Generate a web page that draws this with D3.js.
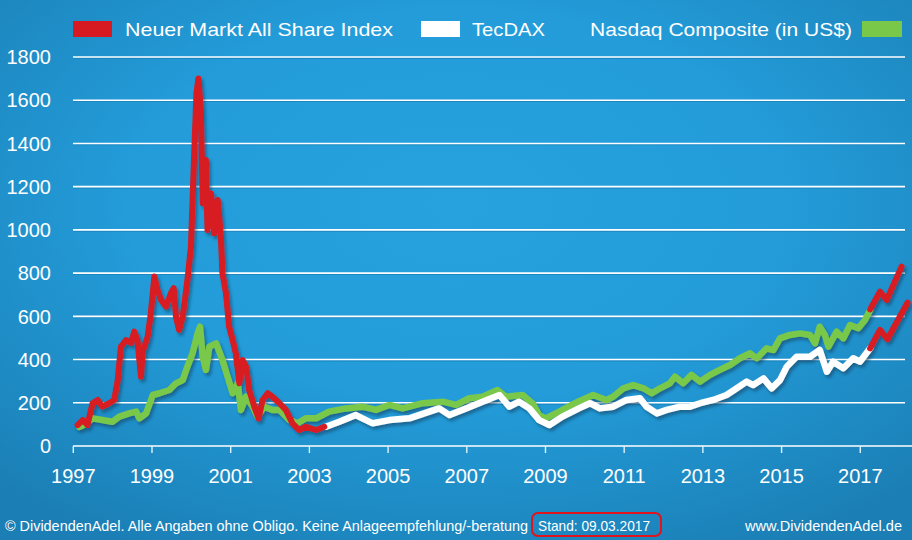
<!DOCTYPE html>
<html><head><meta charset="utf-8">
<script src="https://cdn.jsdelivr.net/npm/d3@7/dist/d3.min.js"></script>
<style>html,body{margin:0;padding:0;overflow:hidden;background:#1f8ccb}svg{display:block}</style>
</head><body><svg id="c" width="912" height="540"></svg>
<script>
// ---- data (year as decimal, index value) ----
const nemax = [[1997.11,97],[1997.24,120],[1997.36,97],[1997.49,198],[1997.62,213],[1997.74,182],[1997.91,198],[1998.04,213],[1998.13,305],[1998.21,460],[1998.34,490],[1998.47,477],[1998.55,529],[1998.63,490],[1998.72,321],[1998.76,436],[1998.89,506],[1998.97,614],[1999.06,784],[1999.14,722],[1999.23,676],[1999.36,645],[1999.48,707],[1999.55,730],[1999.61,598],[1999.69,537],[1999.78,598],[1999.90,768],[1999.99,922],[2000.07,1339],[2000.13,1632],[2000.18,1701],[2000.24,1555],[2000.29,1123],[2000.37,1323],[2000.41,1000],[2000.50,1169],[2000.58,984],[2000.67,1138],[2000.75,968],[2000.79,799],[2000.88,707],[2000.96,552],[2001.05,490],[2001.13,429],[2001.22,290],[2001.30,398],[2001.39,367],[2001.47,259],[2001.60,182],[2001.71,128],[2001.81,213],[2001.94,244],[2002.06,228],[2002.24,198],[2002.40,167],[2002.57,105],[2002.74,74],[2002.91,89],[2003.17,74],[2003.38,89]];
const nasdaq = [[1997.15,88],[1997.24,95],[1997.49,128],[1997.74,120],[1997.99,112],[1998.17,136],[1998.42,151],[1998.60,159],[1998.68,128],[1998.85,151],[1999.02,236],[1999.19,244],[1999.44,259],[1999.61,290],[1999.78,305],[1999.90,367],[2000.03,429],[2000.16,521],[2000.22,552],[2000.29,413],[2000.37,352],[2000.46,460],[2000.63,475],[2000.79,398],[2000.92,321],[2001.05,244],[2001.18,290],[2001.26,167],[2001.39,228],[2001.56,182],[2001.68,136],[2001.85,182],[2002.06,167],[2002.24,167],[2002.49,120],[2002.70,105],[2002.91,128],[2003.17,128],[2003.50,159],[2003.93,174],[2004.35,182],[2004.69,167],[2005.03,190],[2005.37,174],[2005.88,198],[2006.39,205],[2006.73,190],[2007.06,221],[2007.40,228],[2007.78,259],[2008.00,228],[2008.42,236],[2008.67,198],[2008.84,143],[2009.01,128],[2009.35,159],[2009.77,200],[2010.21,236],[2010.55,213],[2010.72,228],[2010.98,267],[2011.23,282],[2011.49,267],[2011.70,244],[2011.91,267],[2012.16,290],[2012.29,321],[2012.50,290],[2012.71,329],[2012.93,298],[2013.18,329],[2013.43,352],[2013.69,375],[2013.94,406],[2014.20,429],[2014.37,406],[2014.62,452],[2014.79,444],[2014.96,498],[2015.21,514],[2015.47,521],[2015.72,514],[2015.85,475],[2015.97,552],[2016.10,514],[2016.19,460],[2016.40,529],[2016.57,498],[2016.74,560],[2016.95,545],[2017.12,583],[2017.25,629]];
const tecdax = [[2003.42,89],[2003.76,112],[2004.18,143],[2004.61,105],[2005.03,120],[2005.54,128],[2006.05,159],[2006.30,174],[2006.56,143],[2006.98,174],[2007.40,205],[2007.83,236],[2008.08,182],[2008.33,205],[2008.59,174],[2008.84,120],[2009.10,97],[2009.43,136],[2009.86,175],[2010.13,198],[2010.38,174],[2010.72,182],[2011.06,213],[2011.40,221],[2011.57,182],[2011.83,151],[2012.08,167],[2012.42,182],[2012.67,182],[2012.93,198],[2013.26,213],[2013.60,236],[2013.86,267],[2014.11,298],[2014.28,282],[2014.54,313],[2014.75,267],[2014.96,305],[2015.13,367],[2015.38,413],[2015.72,413],[2015.97,444],[2016.15,344],[2016.31,390],[2016.57,360],[2016.82,406],[2016.99,390],[2017.25,452]];
const redAfterNasdaq = [[2017.25,632],[2017.50,714],[2017.67,676],[2018.05,830]];
const redAfterTecdax = [[2017.25,452],[2017.50,537],[2017.69,494],[2018.20,663]];
const yTicks = [0,200,400,600,800,1000,1200,1400,1600,1800];
const xTicks = [1997,1999,2001,2003,2005,2007,2009,2011,2013,2015,2017];
const legendLabels = ["Neuer Markt All Share Index","TecDAX","Nasdaq Composite (in US$)"];
const footerLeft = "© DividendenAdel. Alle Angaben ohne Obligo. Keine Anlageempfehlung/-beratung";
const footerStand = "Stand: 09.03.2017";
const footerRight = "www.DividendenAdel.de";

const RED="#d71a22", GREEN="#79c84a", WHITE="#ffffff";
const FONT="'Liberation Sans', Arial, sans-serif";

const svg = d3.select("#c");
const defs = svg.append("defs");
const rg = defs.append("radialGradient").attr("id","bg").attr("cx","50%").attr("cy","38%").attr("r","72%");
rg.append("stop").attr("offset","0%").attr("stop-color","#27a2de");
rg.append("stop").attr("offset","50%").attr("stop-color","#239cd9");
rg.append("stop").attr("offset","100%").attr("stop-color","#1b7fb5");
const f = defs.append("filter").attr("id","sh").attr("x","-5%").attr("y","-5%").attr("width","110%").attr("height","110%");
f.append("feDropShadow").attr("dx",2).attr("dy",3).attr("stdDeviation",1.6).attr("flood-color","#0b3c5e").attr("flood-opacity",0.55);

svg.append("rect").attr("width",912).attr("height",540).attr("fill","url(#bg)");

const x = d3.scaleLinear().domain([1997,2018.2]).range([73.3,907.5]);
const y = d3.scaleLinear().domain([0,1800]).range([446,57]);

// gridlines
const grid = svg.append("g");
yTicks.filter(d=>d>0).forEach(d=>{
  grid.append("line").attr("x1",73).attr("x2",905).attr("y1",y(d)+1.3).attr("y2",y(d)+1.3).attr("stroke","#1b86c0").attr("stroke-width",1.2);
  grid.append("line").attr("x1",73).attr("x2",905).attr("y1",y(d)).attr("y2",y(d)).attr("stroke","#ffffff").attr("stroke-width",1.6);
});

// y labels
svg.append("g").selectAll("text").data(yTicks).join("text")
  .attr("x",51).attr("y",d=>y(d)).attr("dy","0.36em").attr("text-anchor","end")
  .attr("fill","#fff").attr("font-family",FONT).attr("font-size",20).text(d=>d);

// x axis
const xa = svg.append("g").attr("transform","translate(0,446)");
xa.append("line").attr("x1",73).attr("x2",912).attr("stroke","#fff").attr("stroke-width",1.6);
xa.selectAll("line.t").data(xTicks).join("line").attr("class","t")
  .attr("x1",d=>x(d)).attr("x2",d=>x(d)).attr("y1",0).attr("y2",7).attr("stroke","#dff2fb").attr("stroke-width",1.4);
xa.selectAll("text").data(xTicks).join("text")
  .attr("x",d=>x(d)).attr("y",36.5).attr("text-anchor","middle")
  .attr("fill","#fff").attr("font-family",FONT).attr("font-size",20).text(d=>d);

// lines
const line = d3.line().x(d=>x(d[0])).y(d=>y(d[1])).curve(d3.curveLinear);
const lg = svg.append("g").attr("filter","url(#sh)").attr("fill","none").attr("stroke-width",6).attr("stroke-linejoin","round").attr("stroke-linecap","round");
lg.append("path").attr("d",line(nasdaq)).attr("stroke",GREEN).attr("stroke-width",6.5);
lg.append("path").attr("d",line(tecdax)).attr("stroke",WHITE).attr("stroke-width",6.5);
lg.append("path").attr("d",line(nemax)).attr("stroke",RED);
lg.append("path").attr("d",line(redAfterNasdaq)).attr("stroke",RED);
lg.append("path").attr("d",line(redAfterTecdax)).attr("stroke",RED);

// legend
const leg = svg.append("g").attr("font-family",FONT).attr("font-size",19).attr("fill","#fff");
leg.append("rect").attr("x",73).attr("y",21).attr("width",39).attr("height",16).attr("fill",RED);
leg.append("text").attr("x",125).attr("y",36).attr("textLength",268).attr("lengthAdjust","spacingAndGlyphs").text(legendLabels[0]);
leg.append("rect").attr("x",421).attr("y",21).attr("width",39).attr("height",16).attr("fill",WHITE);
leg.append("text").attr("x",472).attr("y",36).attr("textLength",73).attr("lengthAdjust","spacingAndGlyphs").text(legendLabels[1]);
leg.append("text").attr("x",590).attr("y",36).attr("textLength",262).attr("lengthAdjust","spacingAndGlyphs").text(legendLabels[2]);
leg.append("rect").attr("x",862).attr("y",21).attr("width",40).attr("height",16).attr("fill",GREEN);

// footer
const ft = svg.append("g").attr("font-family",FONT).attr("font-size",15).attr("fill","#fff");
ft.append("text").attr("x",5).attr("y",531).attr("textLength",523).attr("lengthAdjust","spacingAndGlyphs").text(footerLeft);
ft.append("rect").attr("x",532).attr("y",513).attr("width",129).attr("height",23).attr("rx",6).attr("fill","none").attr("stroke","#e0141c").attr("stroke-width",2);
ft.append("text").attr("x",538).attr("y",531).attr("textLength",112).attr("lengthAdjust","spacingAndGlyphs").text(footerStand);
ft.append("text").attr("x",745).attr("y",531).attr("textLength",157).attr("lengthAdjust","spacingAndGlyphs").text(footerRight);
</script></body></html>
